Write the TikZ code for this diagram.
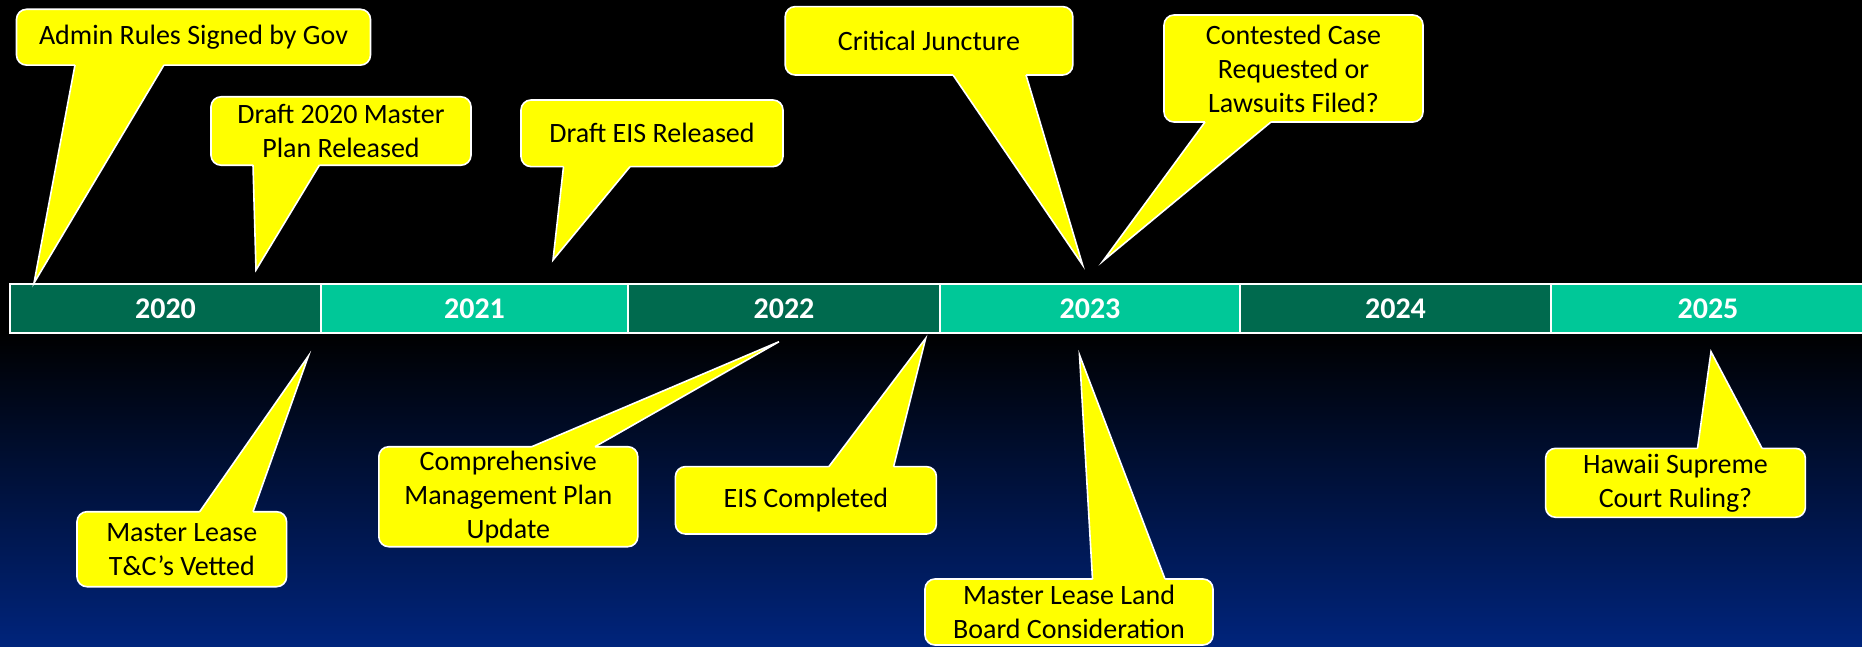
\documentclass[tikz,border=0pt]{standalone}
\usepackage{fontspec}
\setmainfont{Carlito}
\definecolor{darkg}{RGB}{0,106,78}
\definecolor{lightg}{RGB}{0,200,152}
\definecolor{navyc}{RGB}{0,36,124}
\definecolor{callyel}{RGB}{255,255,0}
\newcommand\callptr[5]{%
  \fill[callyel] (#2,#4) -- (#1) -- (#3,#4) -- (#3,#4+#5) -- (#2,#4+#5) -- cycle;
  \draw[white, line width=0.8pt, line join=miter] (#2,#4) -- (#1) -- (#3,#4);
}
\begin{document}
\begin{tikzpicture}[x=0.5pt, y=-0.5pt,
  callbox/.style={rounded corners=5pt, fill=callyel, draw=white, line width=0.8pt,
    inner sep=0pt, align=center, text=black,
    font=\fontsize{14}{17}\selectfont},
  seg/.style={draw=white, line width=1pt, fill=#1, inner sep=0pt,
    minimum height=24.5pt, anchor=north west, text=white,
    font=\fontsize{15}{18}\selectfont\bfseries}]
\useasboundingbox (0,0) rectangle (1862,647);
% background
\fill[black] (0,0) rectangle (1862,332);
\shade[top color=black, bottom color=navyc] (0,332) rectangle (1862,647);

% timeline bar
\node[seg=darkg,  minimum width=155.5pt] (y2020) at (9,283) {2020};
\node[seg=lightg, minimum width=153.5pt] (y2021) at (320,283) {2021};
\node[seg=darkg,  minimum width=156pt]   (y2022) at (627,283) {2022};
\node[seg=lightg, minimum width=150pt]   (y2023) at (939,283) {2023};
\node[seg=darkg,  minimum width=155.5pt] (y2024) at (1239,283) {2024};
\node[seg=lightg, minimum width=157pt]   (y2025) at (1550,283) {2025};

% pointer tips
\coordinate (t1) at (34,283);
\coordinate (t2) at (256,270);
\coordinate (t3) at (553,260);
\coordinate (t4) at (1082.6,265);
\coordinate (t5) at (1103,261);
\coordinate (t6) at (308.4,356);
\coordinate (t7) at (779,341.7);
\coordinate (t8) at (925.7,338.3);
\coordinate (t9) at (1079.5,355);
\coordinate (t10) at (1711,351.7);

% upper callouts
\node[callbox, minimum width=177pt, minimum height=27.9pt] (c1) at (193.5,37.2) {Admin Rules Signed by Gov};
\callptr{t1}{75}{164}{65}{-5}
\node[callbox, minimum width=130pt, minimum height=34.2pt] (c2) at (341,131) {Draft 2020 Master\\Plan Released};
\callptr{t2}{253}{319.5}{165}{-5}
\node[callbox, minimum width=131pt, minimum height=33.3pt] (c3) at (652,133.3) {Draft EIS Released};
\callptr{t3}{563.5}{630}{166.7}{-5}
\node[callbox, minimum width=143.8pt, minimum height=34.2pt] (c4) at (929,40.8) {Critical Juncture};
\callptr{t4}{953}{1026}{75}{-5}
\node[callbox, minimum width=129.5pt, minimum height=53.5pt] (c5) at (1293.5,68.5) {Contested Case\\Requested or\\Lawsuits Filed?};
\callptr{t5}{1205}{1271}{122}{-5}

% lower callouts
\node[callbox, minimum width=104.8pt, minimum height=37.5pt] (c6) at (181.8,549.2) {Master Lease\\T\&C’s Vetted};
\callptr{t6}{199.7}{253}{511.7}{5}
\node[callbox, minimum width=129.5pt, minimum height=50pt] (c7) at (508.3,496.7) {Comprehensive\\Management Plan\\Update};
\callptr{t7}{531.8}{595}{446.7}{5}
\node[callbox, minimum width=130.5pt, minimum height=33.7pt] (c8) at (805.9,500.3) {EIS Completed};
\callptr{t8}{828.8}{893.6}{466.7}{5}
\node[callbox, minimum width=144pt, minimum height=33pt] (c9) at (1069,612) {Master Lease Land\\Board Consideration};
\callptr{t9}{1092.5}{1165}{579}{5}
\node[callbox, minimum width=129.9pt, minimum height=34.5pt] (c10) at (1675.5,482.8) {Hawaii Supreme\\Court Ruling?};
\callptr{t10}{1697.5}{1762}{448.3}{5}
\end{tikzpicture}
\end{document}
